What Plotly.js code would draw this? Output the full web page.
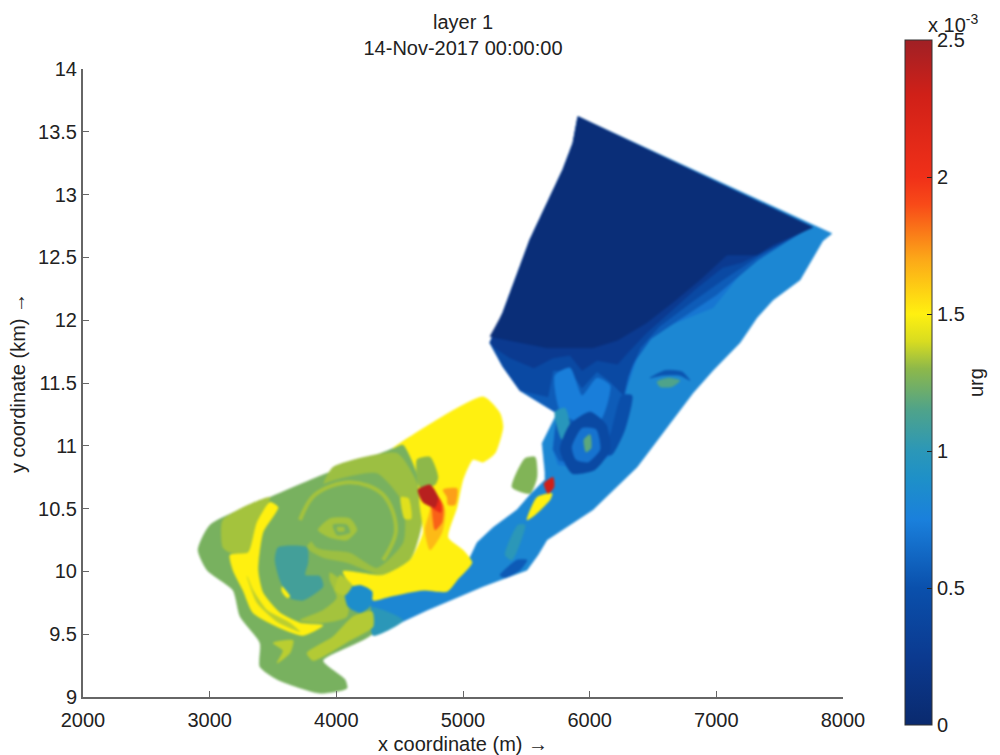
<!DOCTYPE html>
<html><head><meta charset="utf-8">
<script src="https://cdn.plot.ly/plotly-3.0.1.min.js"></script>
<style>html,body{margin:0;padding:0;background:#fff}#c{width:1000px;height:755px}
.scatterlayer{filter:blur(0.9px)}</style></head><body><div id="c"></div><script>
const titleText='layer 1<br>14-Nov-2017 00:00:00';
const yTicks=[9,9.5,10,10.5,11,11.5,12,12.5,13,13.5,14];
const yTickText=['9','9.5','10','10.5','11','11.5','12','12.5','13','13.5','14'];
const xTicks=[2000,3000,4000,5000,6000,7000,8000];
const cbTicks=[0,0.5,1,1.5,2,2.5];
const cbText=['0','0.5','1','1.5','2','2.5'];
const scaleValues=[0,0.25,0.5,0.75,0.9,1,1.15,1.3,1.4,1.5,1.7,1.9,2,2.3,2.5];
const scaleColors=['#0a2a6e','#0b3a90','#0a50ac','#1a80dc','#1e90c8','#2b97b8','#4fa38a','#8db84a','#d8dc20','#fff010','#fca818','#f84a18','#f03018','#d02018','#a02025'];

// NE basin and shore strip (x m, y km, value urg x 1e-3)
const blueX=[5908,7913,7840,7763,7661,7448,7321,7187,6974,6816,6555,6374,6026,5663,5592,5505,5158,4716,4290,4226,5055,5111,5237,5426,5529,5647,5647,5624,5742,5450,5316,5213,5316,5529,5790,5869];
const blueY=[13.62,12.69,12.63,12.50,12.32,12.16,12.02,11.82,11.60,11.42,11.07,10.83,10.49,10.25,10.13,10.01,9.88,9.69,9.49,9.78,10.11,10.23,10.35,10.49,10.61,10.73,10.79,11.02,11.26,11.44,11.63,11.82,12.06,12.64,13.20,13.41];
const midX=[5908,7763,7345,6974,6532,6374,6295,6240,6176,5987,5750,5711,5742,5450,5316,5213,5316,5529,5790,5869];
const midY=[13.62,12.74,12.56,12.10,11.92,11.70,11.47,11.20,10.93,10.81,10.85,10.97,11.26,11.44,11.63,11.82,12.06,12.64,13.20,13.41];
const mid2X=[5908,7700,7330,7000,6700,6480,6340,6270,6210,6160,5987,5760,5711,5742,5450,5316,5213,5316,5529,5790,5869];
const mid2Y=[13.62,12.72,12.48,12.20,12.00,11.85,11.65,11.40,11.20,10.98,10.85,10.88,10.97,11.26,11.44,11.63,11.82,12.06,12.64,13.20,13.41];
const darkX=[5908,7730,7350,7050,6800,6550,6400,6300,6270,6161,6058,5940,5845,5711,5671,5450,5316,5213,5316,5529,5790,5869];
const darkY=[13.62,12.73,12.52,12.32,12.14,11.95,11.78,11.55,11.40,11.51,11.59,11.46,11.60,11.60,11.39,11.44,11.63,11.82,12.06,12.64,13.20,13.41];
const deepX=[5908,7750,7400,7200,7050,6850,6650,6450,6300,6220,6058,5940,5845,5711,5560,5371,5250,5213,5316,5529,5790,5869];
const deepY=[13.62,12.74,12.56,12.46,12.42,12.26,12.08,11.90,11.74,11.65,11.68,11.60,11.72,11.70,11.62,11.70,11.78,11.82,12.06,12.64,13.20,13.41];
const navyX=[5908,7763,7448,7321,7084,6880,6680,6450,6220,6026,5663,5371,5213,5316,5529,5790,5869];
const navyY=[13.62,12.74,12.60,12.52,12.52,12.33,12.16,11.98,11.84,11.78,11.78,11.84,11.87,12.06,12.64,13.20,13.41];
const patchX=[5726,5845,5940,6058,6161,6082,5884,5766];
const patchY=[11.56,11.62,11.40,11.54,11.48,11.20,11.20,11.28];
const tealSpotX=[5726,5805,5845,5782];
const tealSpotY=[11.27,11.30,11.13,11.05];
const ringX=[5766,5845,6003,6129,6161,6042,5861];
const ringY=[10.97,11.17,11.27,11.17,10.97,10.81,10.78];
const ringInX=[5861,5940,6050,6082,5987,5892];
const ringInY=[10.99,11.14,11.13,10.97,10.87,10.89];
const ringCoreX=[5955,6003,6011,5971];
const ringCoreY=[11.05,11.09,10.98,10.95];
const bandX=[6255,6334,6279,6176,6121,6176];
const bandY=[11.40,11.40,11.13,10.93,10.93,11.13];
const crescentX=[6476,6595,6729,6792,6713,6571];
const crescentY=[11.54,11.60,11.59,11.52,11.56,11.56];
const eddyX=[6532,6619,6713,6650,6555];
const eddyY=[11.51,11.54,11.52,11.47,11.47];
const stripDarkX=[5292,5426,5505,5450,5332];
const stripDarkY=[9.97,10.09,10.09,10.01,9.95];
const stripTealX=[5332,5434,5490,5387];
const stripTealY=[10.13,10.37,10.37,10.09];
const stripYellowX=[5505,5584,5703,5687,5569];
const stripYellowY=[10.41,10.59,10.62,10.57,10.45];
const spotRedX=[5640,5711,5718,5671];
const spotRedY=[10.70,10.75,10.67,10.62];
const islandX=[5490,5569,5584,5529,5387];
const islandY=[10.90,10.91,10.75,10.62,10.67];
// SW bay
const bayX=[4600,4447,4005,3895,3476,3003,2908,2979,3184,3240,3397,3397,3532,3871,4084,4068,3895,4290,4266,4290,4700];
const bayY=[11.07,10.98,10.81,10.77,10.59,10.37,10.17,10.01,9.85,9.64,9.43,9.24,9.14,9.03,9.07,9.14,9.29,9.51,9.77,9.85,10.55];
const leftLightX=[3105,3476,3374,3295,3161,3105];
const leftLightY=[10.41,10.59,10.39,10.15,10.15,10.19];
const arcX=[3476,3374,3303,3161,3184,3263,3342,3532,3737,3895,3713,3555,3421,3382,3421,3540];
const arcY=[10.55,10.39,10.15,10.13,10.01,9.85,9.67,9.56,9.49,9.57,9.59,9.67,9.83,10.01,10.31,10.51];
const stripeX=[3295,3374,3532,3713,3634,3453,3342];
const stripeY=[9.96,9.75,9.60,9.52,9.59,9.69,9.85];
const circleX=[3974,4479,4637,4676,4582,4369,4084,3895,3768,3850,3900,3900];
const circleY=[10.83,10.94,10.70,10.39,10.09,9.97,10.07,10.11,10.19,10.30,10.55,10.70];
const innerX=[4005,4321,4526,4526,4321,4108,3847,3737,3816];
const innerY=[10.73,10.78,10.54,10.23,10.03,10.15,10.19,10.39,10.65];
const blotchX=[4510,4570,4590,4540];
const blotchY=[10.59,10.58,10.42,10.42];
const swirlX=[3855,3950,4108,4163,4084,3950];
const swirlY=[10.33,10.42,10.42,10.33,10.25,10.27];
const swirlInX=[3974,4084,4108,4005];
const swirlInY=[10.37,10.37,10.31,10.29];
const swirlCoreX=[4005,4061,4061,4013];
const swirlCoreY=[10.35,10.35,10.32,10.32];
const tealX=[3540,3768,3776,3753,3871,3895,3737,3634,3555,3516];
const tealY=[10.19,10.19,10.07,9.97,9.96,9.88,9.77,9.79,9.93,10.09];
const smallYX=[3571,3634,3611,3571];
const smallYY=[9.88,9.80,9.79,9.84];
const ringLowX=[3950,4084,4084,3895,3713,3895,4005,3950];
const ringLowY=[9.99,9.88,9.64,9.59,9.61,9.69,9.79,9.93];
const yellowX=[5158,5292,5316,5253,5158,5079,5000,4953,4882,5000,5071,4953,4874,4684,4424,4290,4250,4124,4053,4369,4582,4684,4661,4637,4526,4447];
const yellowY=[11.39,11.26,11.15,10.94,10.87,10.89,10.73,10.51,10.27,10.17,10.07,9.93,9.84,9.85,9.80,9.77,9.87,9.89,10.00,9.97,10.09,10.31,10.51,10.78,11.01,10.98];
const blobX=[4068,4187,4282,4266,4187,4092];
const blobY=[9.85,9.89,9.84,9.72,9.67,9.72];
const stripStartX=[4282,4526,4290];
const stripStartY=[9.71,9.61,9.49];
const lowLightX=[4132,4282,4290,4108,3816,3768,3974];
const lowLightY=[9.64,9.68,9.56,9.45,9.29,9.35,9.48];
const starX=[3500,3658,3634,3532,3579];
const starY=[9.43,9.45,9.35,9.27,9.37];
const spurX=[4029,4124,4068,3990];
const spurY=[9.97,9.89,9.81,9.85];
const greenPatchX=[4637,4740,4803,4779,4661];
const greenPatchY=[10.89,10.91,10.75,10.69,10.67];
const tail1X=[4740,4858,4834,4740,4700,4740];
const tail1Y=[10.67,10.49,10.31,10.17,10.33,10.49];
const tail2X=[4740,4842,4834,4779,4755];
const tail2Y=[10.67,10.53,10.39,10.33,10.49];
const tail3X=[4724,4819,4826,4779,4724];
const tail3Y=[10.67,10.57,10.47,10.49,10.55];
const redX=[4645,4740,4803,4779,4684];
const redY=[10.65,10.69,10.59,10.51,10.55];
const sideX=[4842,4953,4937,4882,4874];
const sideY=[10.65,10.66,10.53,10.53,10.59];
const filamentX=[3713,3831,4108,4369,4471,4369];
const filamentY=[10.41,10.61,10.71,10.61,10.33,10.09];

const angular=[[blueX,blueY,0.82],[midX,midY,0.7],[mid2X,mid2Y,0.56],[darkX,darkY,0.42],[deepX,deepY,0.25],[navyX,navyY,0.07]];
const curved=[
[patchX,patchY,0.74],[tealSpotX,tealSpotY,0.98],[bandX,bandY,0.48],[ringX,ringY,0.42],[ringInX,ringInY,0.68],[ringCoreX,ringCoreY,1.18],
[crescentX,crescentY,0.52],[eddyX,eddyY,1.15],
[stripDarkX,stripDarkY,0.55],[stripTealX,stripTealY,1.0],[stripYellowX,stripYellowY,1.5],[spotRedX,spotRedY,2.3],[islandX,islandY,1.27],
[bayX,bayY,1.25],[leftLightX,leftLightY,1.33],[arcX,arcY,1.5],[stripeX,stripeY,1.36],[circleX,circleY,1.32],[innerX,innerY,1.25],[blotchX,blotchY,1.42],
[swirlX,swirlY,1.33],[swirlInX,swirlInY,1.25],[swirlCoreX,swirlCoreY,1.33],[tealX,tealY,1.1],[smallYX,smallYY,1.5],[ringLowX,ringLowY,1.33],
[yellowX,yellowY,1.5],[blobX,blobY,0.88],[stripStartX,stripStartY,1.0],[lowLightX,lowLightY,1.35],[starX,starY,1.36],[spurX,spurY,1.35],
[greenPatchX,greenPatchY,1.3],[tail1X,tail1Y,1.65],[tail2X,tail2Y,1.85],[tail3X,tail3Y,2.05],[redX,redY,2.4],[sideX,sideY,1.72]
];
function hex(c){return [1,3,5].map(i=>parseInt(c.slice(i,i+2),16));}
function colorOf(v){
  for(let i=1;i<scaleValues.length;i++){ if(v<=scaleValues[i]){
    const t=(v-scaleValues[i-1])/(scaleValues[i]-scaleValues[i-1]);
    const a=hex(scaleColors[i-1]),b=hex(scaleColors[i]);
    return 'rgb('+a.map((q,k)=>Math.round(q+(b[k]-q)*t)).join(',')+')';
  }}
  return scaleColors[scaleColors.length-1];
}
const colorscale=scaleValues.map((v,i)=>[v/2.5,scaleColors[i]]);
function poly(r,shape){return {type:'scatter',mode:'lines',x:r[0].concat(r[0][0]),y:r[1].concat(r[1][0]),fill:'toself',
  fillcolor:colorOf(r[2]),line:shape==='spline'?{color:colorOf(r[2]),width:0.5,shape:'spline',smoothing:0.6}:{color:colorOf(r[2]),width:0.5},hoverinfo:'skip',showlegend:false};}
const traces=angular.map(r=>poly(r,'linear')).concat(curved.map(r=>poly(r,'spline')));
traces.push({type:'scatter',mode:'lines',x:filamentX,y:filamentY,line:{color:colorOf(1.33),width:4,shape:'spline'},hoverinfo:'skip',showlegend:false});
traces.push({type:'scatter',mode:'markers',x:[null],y:[null],showlegend:false,hoverinfo:'skip',
  marker:{color:[0],cmin:0,cmax:2.5,colorscale:colorscale,showscale:true,
   colorbar:{thickness:27,thicknessmode:'pixels',len:685,lenmode:'pixels',x:1.0816,xanchor:'left',y:-0.0446,yanchor:'bottom',xpad:0,ypad:0,
     outlinecolor:'#333',outlinewidth:1,ticks:'inside',ticklen:5,tickcolor:'#222',tickvals:cbTicks,ticktext:cbText,
     tickfont:{family:'Liberation Sans',size:20,color:'#222'}}}});
const layout={
 width:1000,height:755,margin:{l:83,r:157,t:69,b:58},paper_bgcolor:'#fff',plot_bgcolor:'#fff',
 font:{family:'Liberation Sans',color:'#222'},showlegend:false,
 title:{text:titleText,font:{size:20,color:'#222'},x:463/1000,xanchor:'center',y:0.962,yanchor:'bottom'},
 xaxis:{range:[2000,8000],tickvals:xTicks,ticks:'inside',ticklen:6,tickcolor:'#666',showline:true,linecolor:'#666',linewidth:2,showgrid:false,zeroline:false,ticklabelstandoff:4,
   tickfont:{size:20,color:'#222'},title:{text:'x coordinate (m) \u2192',font:{size:20,color:'#222'},standoff:7}},
 yaxis:{range:[9,14],tickvals:yTicks,ticktext:yTickText,ticks:'inside',ticklen:6,tickcolor:'#666',showline:true,linecolor:'#666',linewidth:2,showgrid:false,zeroline:false,
   tickfont:{size:20,color:'#222'},title:{text:'y coordinate (km) \u2192',font:{size:20,color:'#222'},standoff:7}},
 annotations:[
  {xref:'paper',yref:'paper',x:(980-83)/760,y:(697-9)/628,text:'x 10<sup>-3</sup>',showarrow:false,font:{size:20,color:'#222'}},
  {xref:'paper',yref:'paper',x:(989-83)/760,y:(697-383)/628,text:'urg',textangle:-90,showarrow:false,font:{size:20,color:'#222'}}
 ]};
Plotly.newPlot('c',traces,layout,{displayModeBar:false,staticPlot:true});
</script></body></html>
